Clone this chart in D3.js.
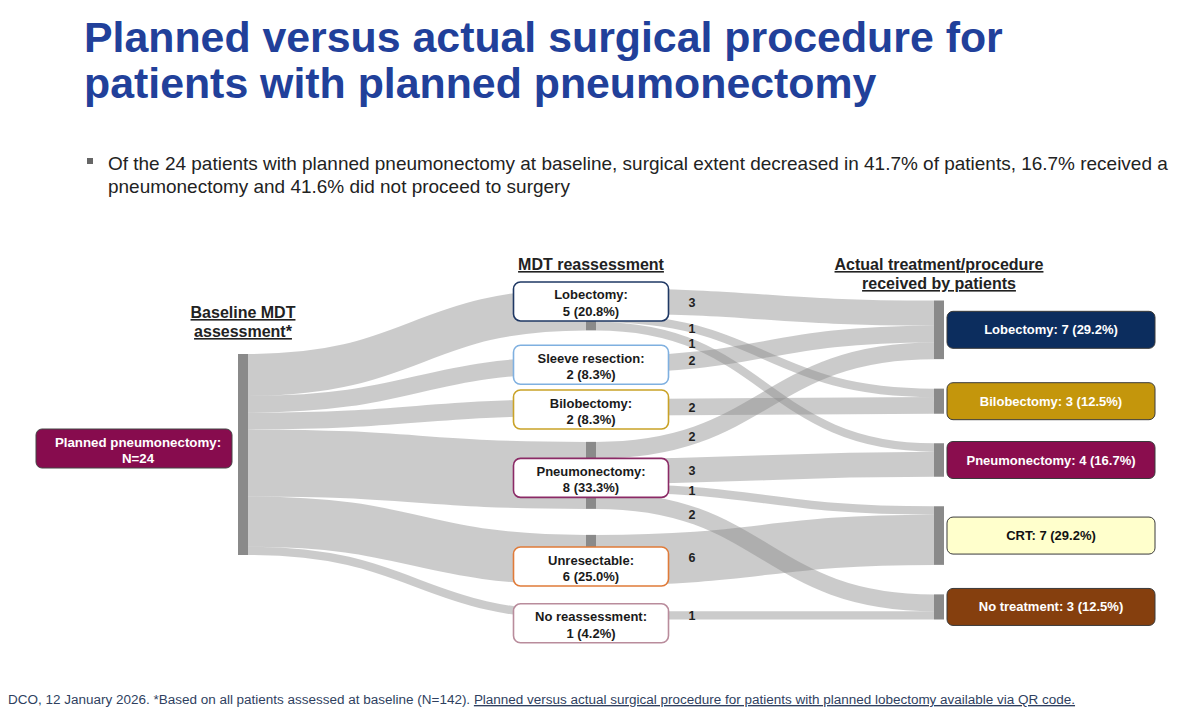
<!DOCTYPE html>
<html><head><meta charset="utf-8">
<script src="https://cdn.jsdelivr.net/npm/d3@7"></script>
<style>body{margin:0;background:#fff;} svg{display:block;font-family:Arial,"Liberation Sans",sans-serif;}</style>
</head><body><svg id="c" width="1199" height="711"></svg>
<script>
// ---------- data ----------
const titleLines = ["Planned versus actual surgical procedure for", "patients with planned pneumonectomy"];
const bulletLines = ["Of the 24 patients with planned pneumonectomy at baseline, surgical extent decreased in 41.7% of patients, 16.7% received a",
                     "pneumonectomy and 41.6% did not proceed to surgery"];
const footnotePlain = "DCO, 12 January 2026. *Based on all patients assessed at baseline (N=142). ";
const footnoteLink = "Planned versus actual surgical procedure for patients with planned lobectomy available via QR code.";
const columnHeaders = [["Baseline MDT", "assessment*"], ["MDT reassessment"], ["Actual treatment/procedure", "received by patients"]];

const baselineNodes = ["Planned pneumonectomy"];
const baselineValues = [24];
const reassessNodes = ["Lobectomy", "Sleeve resection", "Bilobectomy", "Pneumonectomy", "Unresectable", "No reassessment"];
const reassessValues = [5, 2, 2, 8, 6, 1];
const actualNodes = ["Lobectomy", "Bilobectomy", "Pneumonectomy", "CRT", "No treatment"];
const actualValues = [7, 3, 4, 7, 3];
// reassessment -> actual flows
const flowFrom  = [0, 0, 0, 1, 2, 3, 3, 3, 3, 4, 5];
const flowTo    = [0, 1, 2, 0, 1, 0, 2, 3, 4, 3, 4];
const flowValue = [3, 1, 1, 2, 2, 2, 3, 1, 2, 6, 1];

// ---------- styles / layout constants ----------
const reassessBorder = ["#1f3864", "#7fb0e0", "#c9a227", "#8b2a66", "#e07b39", "#b98c9c"];
const actualFill = ["#0c2d5e", "#c4960c", "#8a0d4e", "#ffffcc", "#853f0e"];
const actualTextColor = ["#ffffff", "#ffffff", "#ffffff", "#111111", "#ffffff"];
const baselineFill = "#870c4e";
const midBoxNudge = [-8, 0, 2, 2.5, 6.5, 8];

const svg = d3.select("#c");
const total = d3.sum(baselineValues);
const k = d3.scaleLinear().domain([0, total]).range([0, 201]);
const colX = d3.scalePoint().domain([0, 1, 2]).range([238, 934]);
const barW = 10;
const colCenter = [454.5, 454, 460];
const colPad = [0, 26, 29.5];
const fmtPct = v => d3.format(".1f")(v / total * 100) + "%";

function layoutColumn(values, ci) {
  const H = d3.sum(values, v => k(v)) + colPad[ci] * (values.length - 1);
  let y = colCenter[ci] - H / 2;
  return values.map((v, i) => {
    const n = {col: ci, idx: i, value: v, x0: colX(ci), x1: colX(ci) + barW, y0: y, y1: y + k(v), outOff: 0, inOff: 0};
    y += k(v) + colPad[ci];
    return n;
  });
}
const cols = [layoutColumn(baselineValues, 0), layoutColumn(reassessValues, 1), layoutColumn(actualValues, 2)];

const links = [];
reassessValues.forEach((v, i) => links.push({s: cols[0][0], t: cols[1][i], value: v}));
flowValue.forEach((v, i) => links.push({s: cols[1][flowFrom[i]], t: cols[2][flowTo[i]], value: v, label: true}));
cols.flat().forEach(n => {
  links.filter(l => l.s === n).sort((a, b) => a.t.idx - b.t.idx).forEach(l => {
    l.sy = n.y0 + n.outOff + k(l.value) / 2; n.outOff += k(l.value);
  });
  links.filter(l => l.t === n).sort((a, b) => a.s.idx - b.s.idx).forEach(l => {
    l.ty = n.y0 + n.inOff + k(l.value) / 2; n.inOff += k(l.value);
  });
});

const linkGen = d3.linkHorizontal().x(d => d[0]).y(d => d[1]);
svg.append("g").selectAll("path").data(links).join("path")
  .attr("d", l => linkGen({source: [l.s.x1, l.sy], target: [l.t.x0, l.ty]}))
  .attr("fill", "none").attr("stroke", "#8c8c8c").attr("stroke-opacity", 0.45)
  .attr("stroke-width", l => k(l.value));

svg.append("g").selectAll("rect").data(cols.flat()).join("rect")
  .attr("x", n => n.x0).attr("y", n => n.y0).attr("width", barW).attr("height", n => n.y1 - n.y0)
  .attr("fill", "#8a8a8a");

const labelX = 692;
function yAt(l, X) {
  const x0 = l.s.x1, x1 = l.t.x0, xm = (x0 + x1) / 2;
  let lo = 0, hi = 1;
  for (let i = 0; i < 40; i++) {
    const t = (lo + hi) / 2, u = 1 - t;
    const x = x0 * u * u * u + 3 * u * u * t * xm + 3 * u * t * t * xm + t * t * t * x1;
    if (x < X) lo = t; else hi = t;
  }
  const t = lo;
  return l.sy + (l.ty - l.sy) * (3 * t * t - 2 * t * t * t);
}
svg.append("g").selectAll("text").data(links.filter(l => l.label)).join("text")
  .attr("x", labelX).attr("y", l => yAt(l, labelX)).attr("dy", "0.35em")
  .attr("text-anchor", "middle").attr("font-size", 12.5).attr("font-weight", "bold").attr("fill", "#222")
  .text(l => l.value);

// middle boxes
const mbW = 155, mbH = 39;
const mg = svg.append("g").selectAll("g").data(cols[1]).join("g")
  .attr("transform", (n, i) => `translate(${n.x0 + barW / 2},${(n.y0 + n.y1) / 2 + midBoxNudge[i]})`);
mg.append("rect").attr("x", -mbW / 2).attr("y", -mbH / 2).attr("width", mbW).attr("height", mbH)
  .attr("rx", 7).attr("fill", "#fff").attr("stroke", (n, i) => reassessBorder[i]).attr("stroke-width", 1.6);
mg.append("text").attr("y", -2).attr("text-anchor", "middle").attr("font-size", 13).attr("font-weight", "bold")
  .attr("fill", "#1a1a1a").text((n, i) => reassessNodes[i] + ":");
mg.append("text").attr("y", 14.5).attr("text-anchor", "middle").attr("font-size", 13).attr("font-weight", "bold")
  .attr("fill", "#1a1a1a").text(n => `${n.value} (${fmtPct(n.value)})`);

// right boxes
const rbX = 947, rbW = 208, rbH = 37;
const rg = svg.append("g").selectAll("g").data(cols[2]).join("g")
  .attr("transform", n => `translate(${rbX},${(n.y0 + n.y1) / 2})`);
rg.append("rect").attr("x", 0).attr("y", -rbH / 2).attr("width", rbW).attr("height", rbH).attr("rx", 6)
  .attr("fill", (n, i) => actualFill[i]).attr("stroke", "#3a3a3a").attr("stroke-width", 1);
rg.append("text").attr("x", rbW / 2).attr("y", 4.5).attr("text-anchor", "middle").attr("font-size", 13)
  .attr("font-weight", "bold").attr("fill", (n, i) => actualTextColor[i])
  .text((n, i) => `${actualNodes[i]}: ${n.value} (${fmtPct(n.value)})`);

// left box
const lbX = 36, lbW = 196, lbH = 39;
const ln = cols[0][0];
const lg = svg.append("g").attr("transform", `translate(${lbX},${(ln.y0 + ln.y1) / 2 - 6})`);
lg.append("rect").attr("x", 0).attr("y", -lbH / 2).attr("width", lbW).attr("height", lbH).attr("rx", 6)
  .attr("fill", baselineFill).attr("stroke", "#444").attr("stroke-width", 1);
lg.append("text").attr("x", lbW / 2 + 4).attr("y", -1.5).attr("text-anchor", "middle").attr("font-size", 13.3)
  .attr("font-weight", "bold").attr("fill", "#fff").text(baselineNodes[0] + ":");
lg.append("text").attr("x", lbW / 2 + 4).attr("y", 14).attr("text-anchor", "middle").attr("font-size", 13.3)
  .attr("font-weight", "bold").attr("fill", "#fff").text("N=" + ln.value);

// column headers
const headerBase = [318, 270, 270];
columnHeaders.forEach((lines, ci) => {
  lines.forEach((t, j) => {
    svg.append("text").attr("x", colX(ci) + barW / 2).attr("y", headerBase[ci] + j * 19)
      .attr("text-anchor", "middle").attr("font-size", 16).attr("font-weight", "bold").attr("fill", "#222")
      .style("text-decoration", "underline").text(t);
  });
});

function fitFont(sel, w) {
  const cur = sel.node().getComputedTextLength();
  const fs = parseFloat(sel.attr("font-size")) * w / cur;
  sel.attr("font-size", fs);
  return fs;
}

// title
const t1 = svg.append("text").attr("x", 84).attr("y", 52).attr("font-size", 42.5).attr("font-weight", "bold")
  .attr("fill", "#21409a").text(titleLines[0]);
const tfs = fitFont(t1, 919);
svg.append("text").attr("x", 84).attr("y", 98).attr("font-size", tfs).attr("font-weight", "bold")
  .attr("fill", "#21409a").text(titleLines[1]);

// bullet
svg.append("rect").attr("x", 87).attr("y", 158).attr("width", 6).attr("height", 6).attr("fill", "#666");
const b1 = svg.append("text").attr("x", 108).attr("y", 170).attr("font-size", 17).attr("fill", "#222").text(bulletLines[0]);
const bfs = fitFont(b1, 1060);
svg.append("text").attr("x", 108).attr("y", 193).attr("font-size", bfs).attr("fill", "#222").text(bulletLines[1]);

// footnote
const fn = svg.append("text").attr("x", 8).attr("y", 704).attr("font-size", 12).attr("fill", "#2f3f5f");
fn.append("tspan").text(footnotePlain);
fn.append("tspan").style("text-decoration", "underline").text(footnoteLink);
fitFont(fn, 1068);
</script></body></html>
